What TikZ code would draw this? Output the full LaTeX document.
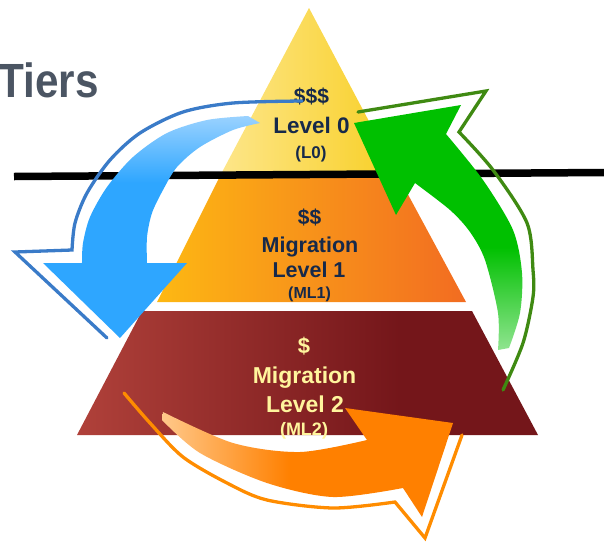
\documentclass[tikz,border=0pt]{standalone}
\usepackage{fontspec}
\setmainfont{Liberation Sans}
\usetikzlibrary{positioning}

\definecolor{TitleGray}{HTML}{4B5563}
\definecolor{Navy}{HTML}{16294A}
\definecolor{PaleYel}{HTML}{FFF59D}
\definecolor{YelL}{HTML}{FDE68A}
\definecolor{YelR}{HTML}{F8CF24}
\definecolor{OraL}{HTML}{FDB813}
\definecolor{OraR}{HTML}{F26C21}
\definecolor{RedL}{HTML}{B0413A}
\definecolor{RedR}{HTML}{74161A}
\definecolor{BluL}{HTML}{9AD2FF}
\definecolor{BluD}{HTML}{2EA6FF}
\definecolor{BluO}{HTML}{3A7BC8}
\definecolor{GrnL}{HTML}{90E490}
\definecolor{GrnD}{HTML}{00C000}
\definecolor{GrnO}{HTML}{3F8A12}
\definecolor{OrgL}{HTML}{FFC88A}
\definecolor{OrgD}{HTML}{FF8000}
\definecolor{OrgO}{HTML}{FF8C00}

% fades along the arrows (path box = 25bp..75bp)
\pgfdeclareverticalshading{bluefade}{100bp}{color(0bp)=(BluD); color(60bp)=(BluD); color(75bp)=(BluL); color(100bp)=(BluL)}
\pgfdeclareverticalshading{greenfade}{100bp}{color(0bp)=(GrnL); color(25bp)=(GrnL); color(46bp)=(GrnD); color(100bp)=(GrnD)}
\pgfdeclarehorizontalshading{orangefade}{100bp}{color(0bp)=(OrgL); color(25bp)=(OrgL); color(47bp)=(OrgD); color(100bp)=(OrgD)}
\pgfdeclarehorizontalshading{redfade}{100bp}{color(0bp)=(RedL); color(25bp)=(RedL); color(60bp)=(RedR); color(100bp)=(RedR)}

\begin{document}
\begin{tikzpicture}[x=1pt, y=1pt,
    lbl/.style={inner sep=0pt, anchor=base},
    rim/.style={line width=3.3pt, line cap=round, line join=miter}]
    \useasboundingbox (0,0) rectangle (604,-544);
    % Title, cut off at the left edge
    \node[inner sep=0pt, anchor=base east, xscale=0.88, text=TitleGray,
        font=\bfseries\fontsize{48}{48}\selectfont] (title) at (99,-97) {Tiers};
    % Tiers of the pyramid
    \shade[left color=YelL, right color=YelR] (309,-8) -- (398,-176) -- (220,-176) -- cycle;
    \shade[left color=OraL, right color=OraR] (220,-176) -- (398,-176) -- (466,-302) -- (157,-302) -- cycle;
    \shade[shading=redfade] (142,-311) -- (472,-311) -- (538,-435) -- (77,-435) -- cycle;
    % Divider
    \draw[line width=7.5pt] (14,-176.5) -- (604,-172.5);
    % Labels, top tier
    \node[lbl, text=Navy, font=\bfseries\fontsize{21}{21}\selectfont] (cost0) at (311.5,-103) {\$\$\$};
    \node[lbl, text=Navy, font=\bfseries\fontsize{22.5}{22.5}\selectfont] (name0) at (311.5,-133) {Level 0};
    \node[lbl, text=Navy, font=\bfseries\fontsize{17}{17}\selectfont] (code0) at (311,-158) {(L0)};
    % Labels, middle tier
    \node[lbl, text=Navy, font=\bfseries\fontsize{21}{21}\selectfont] (cost1) at (309.5,-224) {\$\$};
    \node[lbl, text=Navy, font=\bfseries\fontsize{21.5}{21.5}\selectfont] (mig1) at (310,-252) {Migration};
    \node[lbl, text=Navy, font=\bfseries\fontsize{21.5}{21.5}\selectfont] (name1) at (309,-277) {Level 1};
    \node[lbl, text=Navy, font=\bfseries\fontsize{16}{16}\selectfont] (code1) at (309.5,-298) {(ML1)};
    % Labels, bottom tier
    \node[lbl, text=PaleYel, font=\bfseries\fontsize{22}{22}\selectfont] (cost2) at (304,-353) {\$};
    \node[lbl, text=PaleYel, font=\bfseries\fontsize{23}{23}\selectfont] (mig2) at (304.5,-383) {Migration};
    \node[lbl, text=PaleYel, font=\bfseries\fontsize{23}{23}\selectfont] (name2) at (305,-412) {Level 2};
    \node[lbl, text=PaleYel, font=\bfseries\fontsize{18}{18}\selectfont] (code2) at (304,-435) {(ML2)};
    % Blue arrow, top to left
    \shade[shading=bluefade]
        plot[smooth] coordinates {(248,-116) (207,-120) (167,-133) (133,-157) (107,-187) (90,-217) (83,-243) (82,-263)}
        -- (43,-263) -- (120,-338) -- (187,-263) -- (147,-263)
        -- plot[smooth] coordinates {(147,-263) (147,-237) (152,-213) (163,-190) (177,-167) (200,-147) (233,-130) (260,-123)}
        -- cycle;
    \draw[rim, BluO] plot[smooth] coordinates {(302,-101) (233,-103) (183,-112) (140,-133) (110,-160) (87,-193) (75,-223) (72,-250)}
        -- (15,-252) -- (107,-338);
    % Green arrow, right up to top
    \shade[shading=greenfade]
        plot[smooth] coordinates {(498,-350) (498,-313) (485,-260) (470,-232) (450,-210) (415,-183)}
        -- (396,-215) -- (354,-123) -- (461,-105) -- (446,-134)
        -- plot[smooth] coordinates {(446,-134) (483,-180) (513,-230) (522,-273) (520,-313) (509,-348)}
        -- cycle;
    \draw[rim, GrnO] (358,-112) -- (486,-91) -- (459,-132)
        -- plot[smooth] coordinates {(459,-132) (493,-170) (527,-223) (533,-270) (533,-297) (523,-343) (503,-390)};
    % Orange arrow, left along the bottom to right
    \shade[shading=orangefade]
        plot[smooth] coordinates {(163,-412) (233,-443) (300,-452) (367,-440)}
        -- (345,-408) -- (453,-423) -- (422,-517) -- (403,-488)
        -- plot[smooth] coordinates {(403,-488) (333,-497) (267,-483) (200,-453) (162,-420)}
        -- cycle;
    \draw[rim, OrgO] plot[smooth] coordinates {(124,-393) (150,-423) (183,-457) (227,-483) (267,-500) (333,-508) (395,-502)}
        -- (425,-538) -- (462,-435);
\end{tikzpicture}
\end{document}
